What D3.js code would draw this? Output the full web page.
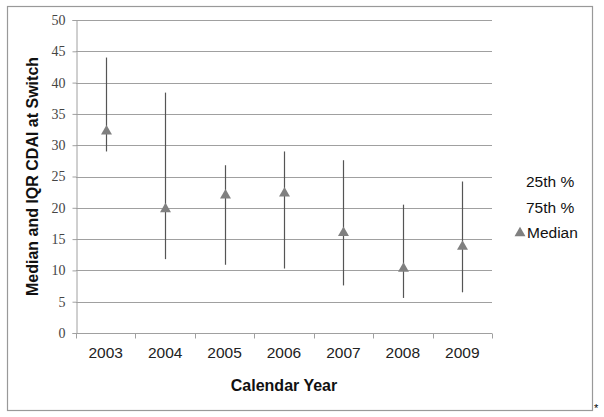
<!DOCTYPE html>
<html>
<head>
<meta charset="utf-8">
<script src="https://cdn.jsdelivr.net/npm/d3@7"></script>
<style>
  body { margin: 0; background: #fff; }
</style>
</head>
<body>
<script>
"use strict";
// chart values
const years = ["2003", "2004", "2005", "2006", "2007", "2008", "2009"]
const p25 = [29.0, 11.8, 10.9, 10.3, 7.6, 5.6, 6.5]
const p75 = [44.0, 38.4, 26.8, 29.0, 27.6, 20.5, 24.2]
const medians = [32.2, 19.8, 22.0, 22.3, 16.0, 10.3, 13.8]
const yTicks = [0, 5, 10, 15, 20, 25, 30, 35, 40, 45, 50]
const legendItems = ["25th %", "75th %", "Median"]

const width = 604, height = 417
const plot = { left: 76, right: 492, top: 20, bottom: 333 }
const sans = "'Liberation Sans', Arial, sans-serif"
const serif = "'Liberation Serif', 'Times New Roman', 'DejaVu Serif', serif"

const svg = d3.select("body").append("svg")
    .attr("width", width)
    .attr("height", height)

// outer frame
svg.append("rect")
    .attr("x", 7.5).attr("y", 6.5)
    .attr("width", 585).attr("height", 404)
    .attr("fill", "none")
    .attr("stroke", "#999")
    .attr("stroke-width", 1.2)

svg.append("text")
    .attr("x", 594).attr("y", 412)
    .style("font-family", sans)
    .style("font-size", "11px")
    .attr("fill", "#000")
    .text("*")

const x = d3.scaleBand()
    .domain(years)
    .range([plot.left, plot.right])

const y = d3.scaleLinear()
    .domain([0, 50])
    .range([plot.bottom, plot.top])

// gridlines
svg.append("g")
    .selectAll("line")
    .data(yTicks.filter(d => d > 0))
    .join("line")
    .attr("x1", plot.left).attr("x2", plot.right)
    .attr("y1", d => Math.round(y(d)) + 0.5)
    .attr("y2", d => Math.round(y(d)) + 0.5)
    .attr("stroke", "#a0a0a0")
    .attr("stroke-width", 1)

// y axis
const yAxis = svg.append("g")
    .attr("transform", `translate(${plot.left + 0.5},0)`)
    .call(d3.axisLeft(y).tickValues(yTicks).tickSize(4).tickPadding(7))
yAxis.select(".domain").attr("stroke", "#a0a0a0")
yAxis.selectAll(".tick line").attr("stroke", "#a0a0a0")
yAxis.selectAll(".tick text")
    .style("font-family", serif)
    .style("font-size", "14px")
    .attr("fill", "#444")

// x axis with ticks at category boundaries
const xAxisG = svg.append("g")
    .attr("transform", `translate(0,${plot.bottom + 0.5})`)
xAxisG.append("line")
    .attr("x1", plot.left).attr("x2", plot.right)
    .attr("stroke", "#a0a0a0")
xAxisG.selectAll(".bt")
    .data(years.concat(["end"]))
    .join("line")
    .attr("class", "bt")
    .attr("x1", (d, i) => Math.round(plot.left + i * x.step()) + 0.5)
    .attr("x2", (d, i) => Math.round(plot.left + i * x.step()) + 0.5)
    .attr("y1", 0).attr("y2", 5)
    .attr("stroke", "#a0a0a0")
xAxisG.selectAll("text")
    .data(years)
    .join("text")
    .attr("x", d => x(d) + x.bandwidth() / 2)
    .attr("y", 24)
    .attr("text-anchor", "middle")
    .style("font-family", sans)
    .style("font-size", "15.5px")
    .attr("fill", "#222")
    .text(d => d)

// axis titles
svg.append("text")
    .attr("x", 284)
    .attr("y", 391)
    .attr("text-anchor", "middle")
    .style("font-family", sans)
    .style("font-size", "16px")
    .style("font-weight", "bold")
    .attr("fill", "#111")
    .text("Calendar Year")

svg.append("text")
    .attr("transform", `translate(38,${(plot.top + plot.bottom) / 2}) rotate(-90)`)
    .attr("text-anchor", "middle")
    .style("font-family", sans)
    .style("font-size", "16px")
    .style("font-weight", "bold")
    .attr("fill", "#111")
    .text("Median and IQR CDAI at Switch")

// IQR lines
const cx = d => Math.round(x(d) + x.bandwidth() / 2) + 0.5
svg.append("g")
    .selectAll("line")
    .data(years)
    .join("line")
    .attr("x1", cx).attr("x2", cx)
    .attr("y1", (d, i) => y(p25[i]))
    .attr("y2", (d, i) => y(p75[i]))
    .attr("stroke", "#555")
    .attr("stroke-width", 1.2)

// median triangles
const tri = d3.symbol().type(d3.symbolTriangle).size(52)
svg.append("g")
    .selectAll("path")
    .data(years)
    .join("path")
    .attr("d", tri)
    .attr("transform", (d, i) => `translate(${cx(d)},${y(medians[i])})`)
    .attr("fill", "#808080")

// legend
const legend = svg.append("g")
    .style("font-family", sans)
    .style("font-size", "15.5px")
    .attr("fill", "#111")
legend.selectAll("text")
    .data(legendItems)
    .join("text")
    .attr("x", (d, i) => i < 2 ? 526 : 527)
    .attr("y", (d, i) => 187 + i * 25.5)
    .text(d => d)
legend.append("path")
    .attr("d", tri)
    .attr("transform", "translate(520,233)")
    .attr("fill", "#808080")
</script>
</body>
</html>
